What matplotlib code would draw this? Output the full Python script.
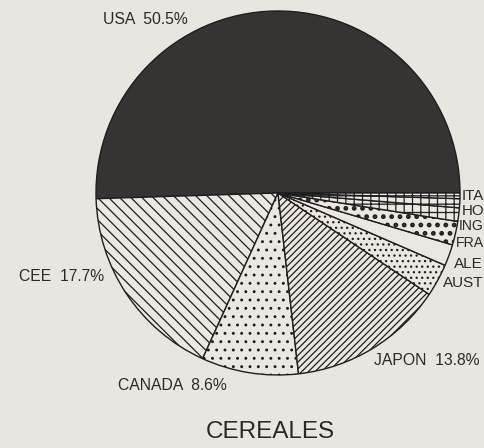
import matplotlib.pyplot as plt

# cereal shares (%)
paises = ['USA', 'CEE', 'CANADA', 'JAPON', 'AUSTRALIA', 'ALEMANIA',
          'FRANCIA', 'INGLATERRA', 'HOLANDA', 'ITALIA']
valores = [50.5, 17.7, 8.6, 13.8, 2.9, 1.9, 2.1, 1.2, 0.8, 0.5]
# labels as printed (the right-hand ones are cut by the page edge)
etiquetas = ['USA  50.5%', 'CEE  17.7%', 'CANADA  8.6%', 'JAPON  13.8%',
             'AUST', 'ALE', 'FRA', 'ING', 'HO', 'ITA']
titulo = 'CEREALES'

# styling per slice
tramas = ['', '\\\\\\', '..', '/////', '...', '', '..', '++', '++', '++']
rellenos = ['#353433'] + ['#ebe8e1'] * 9

# label anchor points in data units (pie radius = 1)
pos_etiq = [(-0.96, 0.956), (-1.425, -0.46), (-0.88, -1.055), (0.53, -0.92),
            (0.905, -0.495), (0.965, -0.39), (0.98, -0.275), (0.995, -0.181),
            (1.01, -0.099), (1.01, -0.016)]
tam_etiq = [11.3, 11.3, 11.3, 11.3, 11, 11, 10.2, 10.0, 10.8, 10.8]

fondo = '#e9e6df'
plt.rcParams['font.family'] = ['Liberation Sans', 'DejaVu Sans']
plt.rcParams['hatch.color'] = '#1e1e1e'
plt.rcParams['hatch.linewidth'] = 0.9

fig = plt.figure(figsize=(4.84, 4.48), dpi=100, facecolor=fondo)
ax = fig.add_axes([96 / 484, 73 / 448, 364 / 484, 364 / 448])
ax.set_facecolor(fondo)

wedges, _ = ax.pie(valores, startangle=0, counterclock=True,
                   colors=rellenos,
                   wedgeprops=dict(edgecolor='#1e1e1e', linewidth=1.0))
for w, h in zip(wedges, tramas):
    w.set_hatch(h)
# checkered look for FRANCIA: heavier dots
if hasattr(wedges[6], 'set_hatch_linewidth'):
    wedges[6].set_hatch_linewidth(2.2)

ax.set_xlim(-1, 1)
ax.set_ylim(-1, 1)
ax.set_aspect('equal')
ax.axis('off')

for txt, (x, y), fs in zip(etiquetas, pos_etiq, tam_etiq):
    ax.text(x, y, txt, ha='left', va='center',
            fontsize=fs, color='#2a2a2a')

fig.text(270 / 484, 1 - 432 / 448, titulo, ha='center', va='center',
         fontsize=17.5, color='#2a2a2a')

fig.savefig('out.png', dpi=100, facecolor=fondo)
